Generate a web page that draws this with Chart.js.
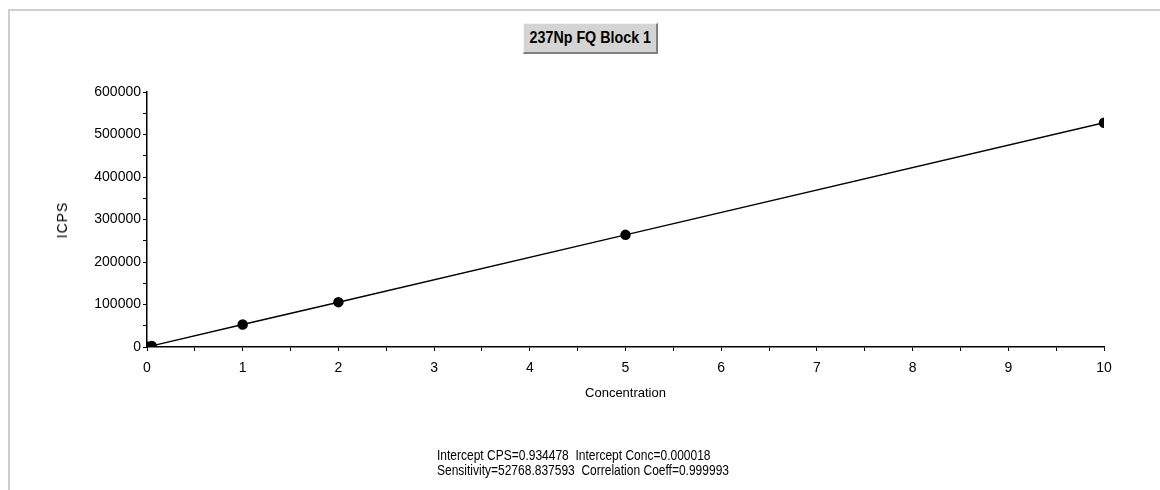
<!DOCTYPE html>
<html>
<head>
<meta charset="utf-8">
<script src="https://cdn.jsdelivr.net/npm/chart.js@4.4.1/dist/chart.umd.min.js"></script>
<style>
  body { margin: 0; background: #fff; }
  #wrap { position: relative; width: 1160px; height: 490px; overflow: hidden; }
  #frame { position: absolute; left: 8px; top: 9px; right: -4px; bottom: -4px;
           border-left: 2px solid #cfcfcf; border-top: 2px solid #cfcfcf; }
  #title { position: absolute; left: 523px; top: 23px; width: 132px; height: 28px;
           background: #d4d4d4; border-top: 1px solid #f4f4f4; border-left: 1px solid #f4f4f4;
           border-right: 2px solid #808080; border-bottom: 2px solid #808080;
           display: flex; justify-content: center; align-items: center; color: #000; white-space: nowrap; }
  #title span { flex-shrink: 0; display: inline-block; transform: scaleX(0.84);
                font: bold 17px "Liberation Sans", Arial, sans-serif; }
  #ylab { position: absolute; left: 62px; top: 220px; transform: translate(-50%, -50%) rotate(-90deg);
          font: 14px "Liberation Sans", Arial, sans-serif; color: #000; letter-spacing: 1px; }
  #stats { position: absolute; left: 437px; top: 447px; white-space: pre; transform: scaleX(0.8);
           transform-origin: left top;
           font: 15px "Liberation Sans", Arial, sans-serif; line-height: 15px; color: #000; }
  canvas { position: absolute; left: 0; top: 0; }
</style>
</head>
<body>
<div id="wrap">
  <div id="frame"></div>
  <canvas id="cal" width="1160" height="490"></canvas>
  <div id="title"><span>237Np FQ Block 1</span></div>
  <div id="ylab">ICPS</div>
  <div id="stats">Intercept CPS=0.934478  Intercept Conc=0.000018
Sensitivity=52768.837593  Correlation Coeff=0.999993</div>
</div>
<script>
// standards
const concentrations = [0, 0.01, 0.05, 1, 2, 5, 10];
const icps           = [1, 530, 2640, 52770, 105540, 263850, 527690];

const xMin = 0, xMax = 10, xStep = 0.5;
const yMin = 0, yMax = 600000, yStep = 50000;

const sans = '"Liberation Sans", Arial, sans-serif';

new Chart(document.getElementById('cal'), {
  type: 'scatter',
  data: {
    datasets: [{
      data: concentrations.map((c, i) => ({ x: c, y: icps[i] })),
      showLine: true,
      borderColor: '#000',
      borderWidth: 1.5,
      backgroundColor: '#000',
      pointRadius: 4.5,
      pointHoverRadius: 4.5
    }]
  },
  options: {
    responsive: false,
    animation: false,
    layout: { padding: { left: 0, top: 92, right: 56, bottom: 89 } },
    plugins: { legend: { display: false }, tooltip: { enabled: false } },
    scales: {
      x: {
        type: 'linear', min: xMin, max: xMax,
        afterFit: s => { s.height = 54; },
        border: { display: true, color: '#000', width: 1.5 },
        grid: { drawOnChartArea: false, drawTicks: true, tickLength: 4, color: '#000' },
        ticks: {
          stepSize: xStep, autoSkip: false, maxRotation: 0, padding: 9,
          color: '#000', font: { family: sans, size: 14 },
          callback: v => Number.isInteger(v) ? v : ''
        },
        title: { display: true, text: 'Concentration', color: '#000',
                 font: { family: sans, size: 13 }, padding: { top: 0, bottom: 0 } }
      },
      y: {
        type: 'linear', min: yMin, max: yMax,
        afterFit: s => { s.width = 147; },
        border: { display: true, color: '#000', width: 1.5 },
        grid: { drawOnChartArea: false, drawTicks: true, tickLength: 4, color: '#000' },
        ticks: {
          stepSize: yStep, autoSkip: false, padding: 2,
          color: '#000', font: { family: sans, size: 14 },
          callback: v => v % 100000 === 0 ? v : ''
        }
      }
    }
  }
});
</script>
</body>
</html>
